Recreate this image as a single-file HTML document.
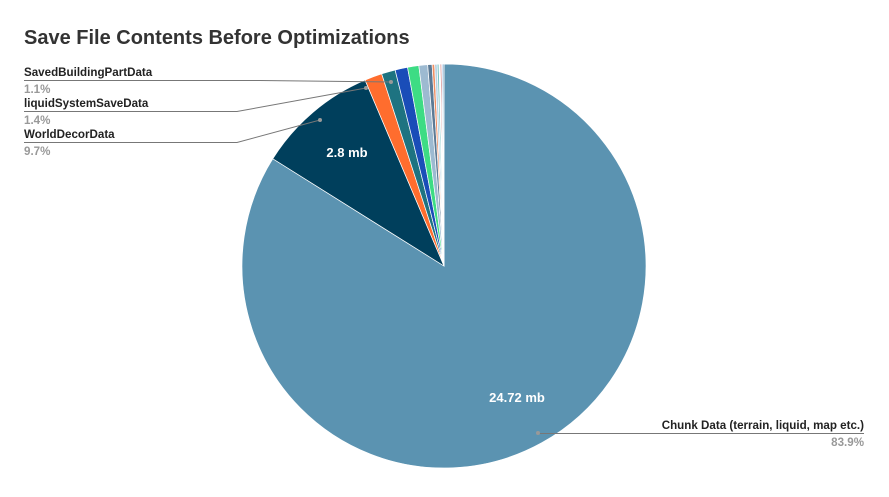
<!DOCTYPE html><html><head><style>body{margin:0;background:#fff;font-family:"Liberation Sans",Arial,sans-serif}</style></head><body>
<svg id="s" width="889" height="492" xmlns="http://www.w3.org/2000/svg" font-family="Liberation Sans, Arial, sans-serif">
<rect width="889" height="492" fill="#fff"/>
<text x="24" y="44" font-size="20" font-weight="bold" fill="#333">Save File Contents Before Optimizations</text>
<g id="pie"></g>
<text x="347" y="157" font-size="13" font-weight="bold" fill="#fff" text-anchor="middle">2.8 mb</text>
<text x="517" y="402" font-size="13" font-weight="bold" fill="#fff" text-anchor="middle">24.72 mb</text>
<g stroke="#777" stroke-width="1" fill="none">
<polyline points="24,80.5 260,80.5 391,82"/>
<polyline points="24,111.5 237,111.5 366,88"/>
<polyline points="24,142.5 237,142.5 320,120"/>
<polyline points="538,433.5 864,433.5"/>
</g>
<g fill="#999"><circle cx="391" cy="82" r="2"/><circle cx="366" cy="88" r="2"/><circle cx="320" cy="120" r="2"/><circle cx="538" cy="433" r="2"/></g>
<g font-size="11.6" font-weight="bold">
<text x="24" y="76" fill="#222">SavedBuildingPartData</text><text x="24" y="93" fill="#999">1.1%</text>
<text x="24" y="107" fill="#222">liquidSystemSaveData</text><text x="24" y="124" fill="#999">1.4%</text>
<text x="24" y="138" fill="#222">WorldDecorData</text><text x="24" y="155" fill="#999">9.7%</text>
<text x="864" y="429" fill="#222" text-anchor="end">Chunk Data (terrain, liquid, map etc.)</text><text x="864" y="446" fill="#999" text-anchor="end">83.9%</text>
</g>
</svg>
<script>
var cx=444,cy=266,r=202;
var d=[[83.9,"#5b93b1"],[9.7,"#003f5c"],[1.4,"#ff6d2e"],[1.1,"#1e7381"],[1.0,"#1a4db8"],[0.9,"#3ddc84"],[0.7,"#9dbad1"],[0.35,"#5c7a95"],[0.2,"#f08f63"],[0.2,"#b8d4e6"],[0.15,"#7bc4c4"],[0.1,"#ffffff"],[0.1,"#c04848"],[0.1,"#aaccee"],[0.09,"#4a7fa8"]];
var tot=d.reduce(function(a,b){return a+b[0]},0),a=0,g=document.getElementById("pie"),h="";
function pt(t){t=t/tot*2*Math.PI;return [cx+r*Math.sin(t),cy-r*Math.cos(t)];}
d.forEach(function(s){var p=pt(a),q=pt(a+s[0]);var l=s[0]/tot>0.5?1:0;
h+='<path d="M'+cx+','+cy+'L'+p[0]+','+p[1]+'A'+r+','+r+' 0 '+l+' 1 '+q[0]+','+q[1]+'Z" fill="'+s[1]+'" stroke="#fff" stroke-width="0.7"/>';a+=s[0];});
g.innerHTML=h;
</script>
</body></html>
